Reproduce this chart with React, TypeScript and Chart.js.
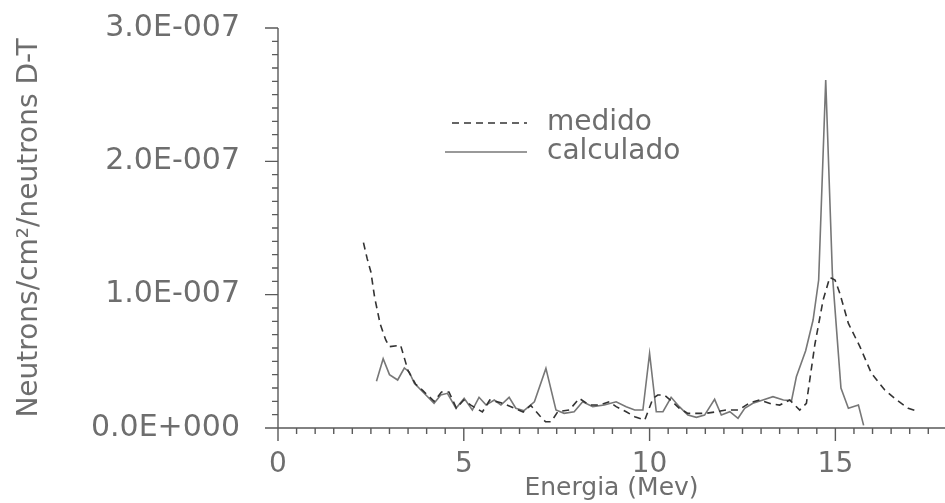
import React, { useEffect, useRef } from "react";
import { Chart, registerables } from "chart.js";

Chart.register(...registerables);

// ---- Data (energy in MeV, flux in neutrons/cm²/neutron D-T) ----
const medidoE = [
  2.3, 2.4, 2.5, 2.6, 2.75, 2.9, 3.0, 3.3, 3.5, 3.7, 3.9, 4.2, 4.4, 4.6, 4.8, 5.0,
  5.2, 5.5, 5.7, 6.0, 6.35, 6.6, 6.8, 7.05, 7.2, 7.35, 7.53, 7.84, 8.11, 8.38, 8.65,
  8.92, 9.1, 9.37, 9.6, 9.87, 10.09, 10.22, 10.4, 10.6, 10.8, 11.03, 11.52, 11.8,
  12.06, 12.4, 12.7, 12.96, 13.28, 13.5, 13.77, 14.04, 14.22, 14.45, 14.67, 14.85,
  14.99, 15.12, 15.35, 15.66, 15.97, 16.33, 16.65, 16.96, 17.24,
];
const medidoV = [
  13.9e-8, 12.7e-8, 11.7e-8, 9.8e-8, 7.8e-8, 6.6e-8, 6.1e-8, 6.2e-8, 4.3e-8, 3.3e-8,
  2.8e-8, 2.0e-8, 2.7e-8, 2.7e-8, 1.5e-8, 2.1e-8, 1.7e-8, 1.2e-8, 2.1e-8, 1.9e-8,
  1.5e-8, 1.2e-8, 1.7e-8, 0.9e-8, 0.47e-8, 0.47e-8, 1.22e-8, 1.35e-8, 2.22e-8,
  1.72e-8, 1.72e-8, 1.97e-8, 1.6e-8, 1.22e-8, 0.85e-8, 0.6e-8, 2.22e-8, 2.47e-8,
  2.47e-8, 2.0e-8, 1.48e-8, 1.1e-8, 1.1e-8, 1.22e-8, 1.35e-8, 1.35e-8, 1.9e-8,
  2.1e-8, 1.8e-8, 1.72e-8, 2.1e-8, 1.35e-8, 1.85e-8, 6.3e-8, 9.6e-8, 11.3e-8,
  11.1e-8, 10.1e-8, 7.84e-8, 6.1e-8, 4.1e-8, 2.85e-8, 2.1e-8, 1.48e-8, 1.22e-8,
];

const calculadoE = [
  2.65, 2.83, 3.0, 3.22, 3.4, 3.53, 3.67, 3.9, 4.2, 4.38, 4.56, 4.79, 5.01, 5.23,
  5.41, 5.6, 5.82, 6.0, 6.22, 6.4, 6.62, 6.9, 7.21, 7.48, 7.7, 7.97, 8.2, 8.47, 8.78,
  9.1, 9.37, 9.6, 9.82, 10.0, 10.18, 10.36, 10.58, 10.8, 11.03, 11.26, 11.48, 11.75,
  11.93, 12.16, 12.38, 12.56, 12.78, 13.05, 13.32, 13.6, 13.82, 13.95, 14.2, 14.4,
  14.55, 14.74, 14.92, 15.15, 15.35, 15.62, 15.76,
];
const calculadoV = [
  3.5e-8, 5.2e-8, 4.0e-8, 3.6e-8, 4.5e-8, 4.2e-8, 3.35e-8, 2.7e-8, 1.85e-8, 2.47e-8,
  2.6e-8, 1.48e-8, 2.22e-8, 1.35e-8, 2.3e-8, 1.72e-8, 2.1e-8, 1.72e-8, 2.3e-8,
  1.48e-8, 1.3e-8, 1.97e-8, 4.47e-8, 1.35e-8, 1.1e-8, 1.22e-8, 1.97e-8, 1.6e-8,
  1.72e-8, 1.97e-8, 1.6e-8, 1.35e-8, 1.35e-8, 5.6e-8, 1.22e-8, 1.22e-8, 2.3e-8,
  1.6e-8, 0.97e-8, 0.8e-8, 0.97e-8, 2.15e-8, 0.97e-8, 1.22e-8, 0.73e-8, 1.48e-8,
  1.85e-8, 2.1e-8, 2.35e-8, 2.1e-8, 2.05e-8, 3.84e-8, 5.8e-8, 8.1e-8, 11.1e-8,
  26.1e-8, 11.5e-8, 3.0e-8, 1.48e-8, 1.72e-8, 0.2e-8,
];

const seriesLabels = ["medido", "calculado"];
const xTitle = "Energia (Mev)";
const yTitle = "Neutrons/cm²/neutrons D-T";

const X_MIN = 0;
const X_MAX = 17.95;
const X_STEP = 0.5;
const X_MAJOR = 5;
const Y_MIN = 0;
const Y_MAX = 3e-7;
const Y_STEP = 1e-8;
const Y_MAJOR = 1e-7;

const FONT = "'DejaVu Sans', sans-serif";
const TEXT = "#6e6e6e";
const AXIS = "#5a5a5a";

function isMultiple(v: number, step: number) {
  const r = v / step;
  return Math.abs(r - Math.round(r)) < 1e-6;
}

function formatSci(v: number) {
  if (Math.abs(v) < 1e-20) return "0.0E+000";
  const e = Math.floor(Math.log10(Math.abs(v)) + 1e-9);
  const m = v / Math.pow(10, e);
  return m.toFixed(1) + "E" + (e < 0 ? "-" : "+") + String(Math.abs(e)).padStart(3, "0");
}

const axesPlugin = {
  id: "plotterAxes",
  afterDraw(chart: any) {
    const { ctx } = chart;
    const x = chart.scales.x;
    const y = chart.scales.y;
    const x0 = x.getPixelForValue(0);
    const y0 = y.getPixelForValue(0);
    ctx.save();
    ctx.strokeStyle = AXIS;
    ctx.lineWidth = 1.4;
    ctx.beginPath();
    ctx.moveTo(x0 - 13, y0);
    ctx.lineTo(x.right, y0);
    ctx.moveTo(x0, y0);
    ctx.lineTo(x0, y.getPixelForValue(Y_MAX));
    x.ticks.forEach((t: any) => {
      const px = x.getPixelForValue(t.value);
      const len = isMultiple(t.value, X_MAJOR) ? 13 : 6;
      ctx.moveTo(px, y0);
      ctx.lineTo(px, y0 + len);
    });
    y.ticks.forEach((t: any) => {
      const py = y.getPixelForValue(t.value);
      const len = isMultiple(t.value, Y_MAJOR) ? 13 : 6;
      ctx.moveTo(x0, py);
      ctx.lineTo(x0 - len, py);
    });
    ctx.stroke();
    ctx.restore();
  },
};

const legendPlugin = {
  id: "plotterLegend",
  afterDraw(chart: any) {
    const { ctx } = chart;
    const rows = [
      { y: 123, x1: 452, x2: 527 },
      { y: 152, x1: 445, x2: 527 },
    ];
    ctx.save();
    chart.data.datasets.forEach((ds: any, i: number) => {
      const r = rows[i];
      ctx.strokeStyle = ds.borderColor;
      ctx.lineWidth = ds.borderWidth;
      ctx.setLineDash(ds.borderDash || []);
      ctx.beginPath();
      ctx.moveTo(r.x1, r.y);
      ctx.lineTo(r.x2, r.y);
      ctx.stroke();
      ctx.setLineDash([]);
      ctx.fillStyle = TEXT;
      ctx.font = `28px ${FONT}`;
      ctx.textBaseline = "middle";
      ctx.textAlign = "left";
      ctx.fillText(ds.label, 547, r.y);
    });
    ctx.restore();
  },
};

export default function App() {
  const ref = useRef<HTMLCanvasElement | null>(null);
  useEffect(() => {
    if (!ref.current) return;
    const chart = new Chart(ref.current, {
      type: "line",
      data: {
        datasets: [
          {
            label: seriesLabels[0],
            data: medidoE.map((e, i) => ({ x: e, y: medidoV[i] })),
            borderColor: "#333333",
            borderWidth: 1.6,
            borderDash: [7, 5],
            pointRadius: 0,
            tension: 0,
            fill: false,
          },
          {
            label: seriesLabels[1],
            data: calculadoE.map((e, i) => ({ x: e, y: calculadoV[i] })),
            borderColor: "#777777",
            borderWidth: 1.6,
            pointRadius: 0,
            tension: 0,
            fill: false,
          },
        ],
      },
      options: {
        responsive: false,
        animation: false,
        layout: { padding: { top: 28, left: 0, right: 0, bottom: 0 } },
        plugins: { legend: { display: false }, tooltip: { enabled: false } },
        scales: {
          x: {
            type: "linear",
            min: X_MIN,
            max: X_MAX,
            grid: { display: false, drawTicks: false },
            border: { display: false },
            ticks: {
              stepSize: X_STEP,
              autoSkip: false,
              includeBounds: false,
              maxRotation: 0,
              padding: 20,
              color: TEXT,
              font: { family: FONT, size: 28 },
              callback: (v: any) => (isMultiple(Number(v), X_MAJOR) ? String(Math.round(Number(v))) : ""),
            },
            title: {
              display: true,
              text: xTitle,
              color: TEXT,
              font: { family: FONT, size: 25 },
              padding: { top: 0, bottom: 0 },
            },
            afterFit: (s: any) => {
              s.height = 75;
              s.paddingLeft = 0;
              s.paddingRight = 0;
            },
          },
          y: {
            type: "linear",
            min: Y_MIN,
            max: Y_MAX,
            grid: { display: false, drawTicks: false },
            border: { display: false },
            ticks: {
              stepSize: Y_STEP,
              autoSkip: false,
              includeBounds: false,
              padding: 38,
              color: TEXT,
              font: { family: FONT, size: 30 },
              callback: (v: any) => (isMultiple(Number(v), Y_MAJOR) ? formatSci(Number(v)) : ""),
            },
            title: {
              display: true,
              text: yTitle,
              color: TEXT,
              font: { family: FONT, size: 28 },
              padding: { top: 13, bottom: 0 },
            },
            afterFit: (s: any) => {
              s.width = 278;
              s.paddingTop = 0;
              s.paddingBottom = 0;
            },
          },
        },
      },
      plugins: [axesPlugin, legendPlugin],
    } as any);
    return () => chart.destroy();
  }, []);
  return (
    <div style={{ position: "absolute", left: 0, top: 0, width: 945, height: 503, background: "#fff" }}>
      <canvas ref={ref} width={945} height={503} />
    </div>
  );
}
